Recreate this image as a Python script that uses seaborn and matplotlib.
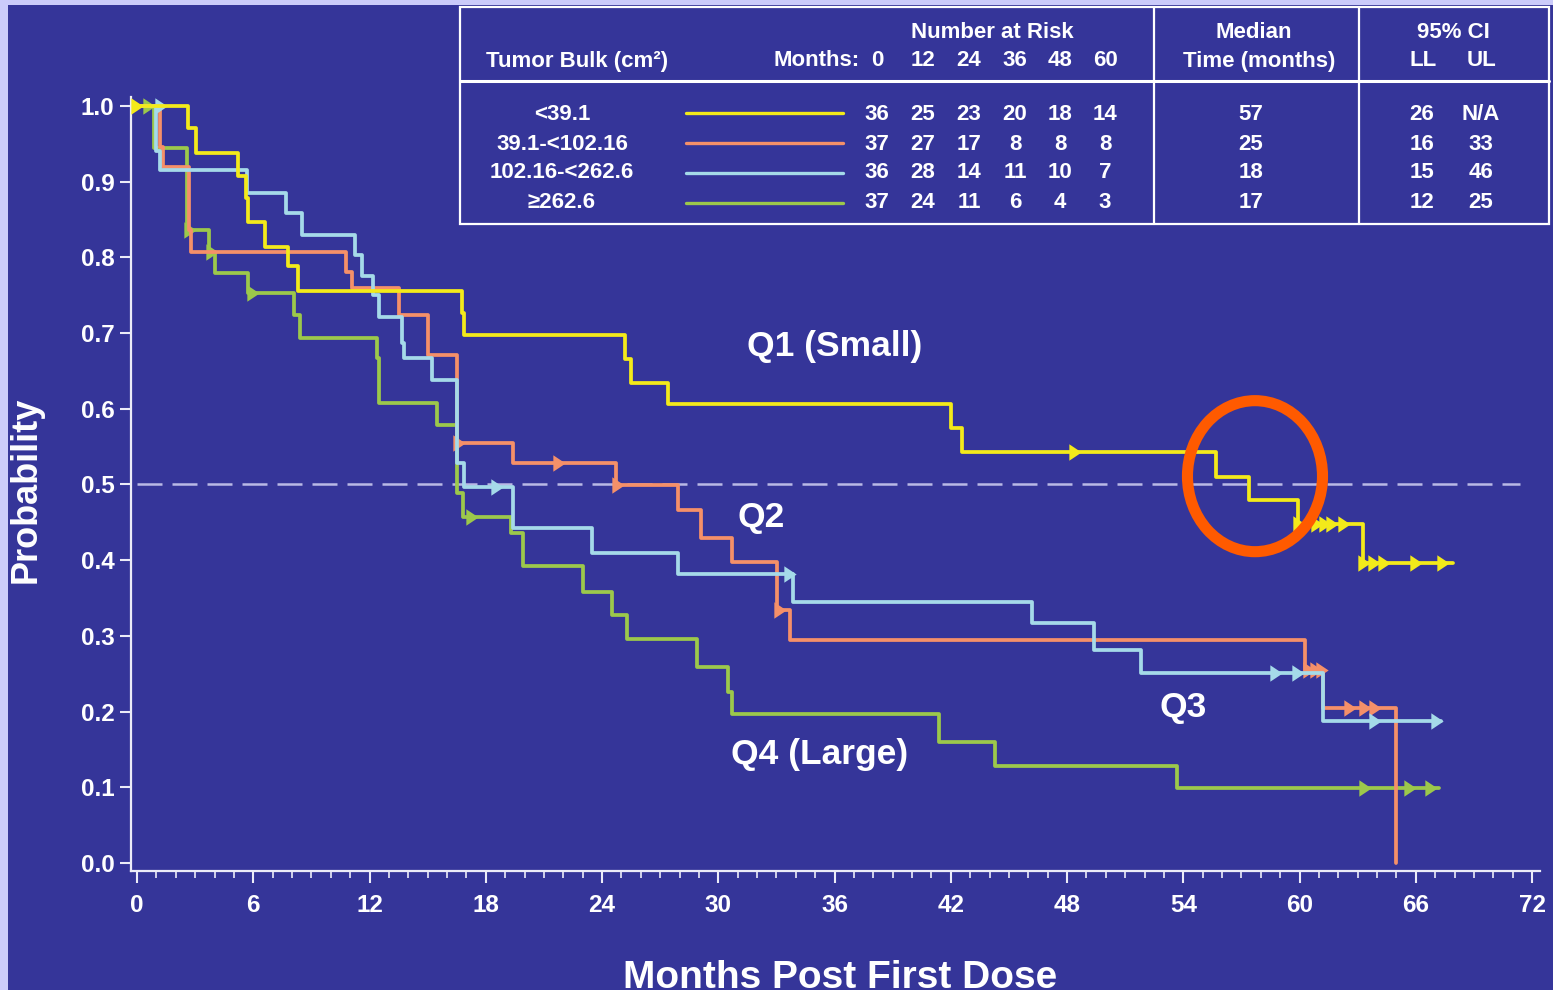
import numpy as np
import matplotlib
matplotlib.use("Agg")
import matplotlib.pyplot as plt
import seaborn as sns
from matplotlib.patches import Rectangle, Ellipse
from matplotlib.lines import Line2D

# ---------------- data ----------------
group_labels = ["<39.1", "39.1-<102.16", "102.16-<262.6", "\u2265262.6"]
curve_names = ["Q1 (Small)", "Q2", "Q3", "Q4 (Large)"]

# Kaplan-Meier step curves: time of each step (months) and survival after it
q1_t = [0, 2.65, 3.05, 5.23, 5.6, 5.75, 6.6, 7.8, 8.3, 16.75, 16.9, 25.2, 25.5, 27.4,
        42.0, 42.6, 55.7, 57.4, 59.9, 63.3, 67.9]
q1_s = [1.0, 0.971, 0.938, 0.907, 0.878, 0.847, 0.814, 0.788, 0.756, 0.726, 0.697, 0.666,
        0.634, 0.606, 0.575, 0.543, 0.510, 0.480, 0.448, 0.396, 0.396]
q1_cens_t = [0.0, 48.4, 59.95, 60.9, 61.3, 61.7, 62.3, 63.35, 63.85, 64.35, 66.0, 67.4]
q1_cens_s = [1.0, 0.543, 0.448, 0.448, 0.448, 0.448, 0.448, 0.396, 0.396, 0.396, 0.396, 0.396]

q2_t = [0, 1.2, 1.35, 2.7, 2.8, 10.8, 11.1, 13.5, 15.0, 16.5, 19.4, 24.7, 27.9, 29.1,
        30.7, 33.05, 33.7, 60.3, 61.2, 65.0]
q2_s = [1.0, 0.946, 0.920, 0.836, 0.807, 0.781, 0.759, 0.724, 0.671, 0.555, 0.528, 0.499,
        0.466, 0.429, 0.398, 0.334, 0.295, 0.255, 0.205, 0.0]
q2_cens_t = [16.6, 21.8, 24.8, 33.2, 60.5, 60.85, 61.15, 62.6, 63.4, 63.9]
q2_cens_s = [0.555, 0.528, 0.499, 0.334, 0.255, 0.255, 0.255, 0.205, 0.205, 0.205]

q3_t = [0, 1.0, 1.2, 5.67, 7.7, 8.5, 11.25, 11.6, 12.2, 12.5, 13.7, 13.8, 15.2, 16.5,
        16.9, 19.4, 23.5, 27.9, 33.85, 46.2, 49.4, 51.8, 61.2, 67.3]
q3_s = [1.0, 0.940, 0.915, 0.885, 0.858, 0.830, 0.803, 0.776, 0.750, 0.721, 0.687, 0.667,
        0.638, 0.528, 0.497, 0.443, 0.410, 0.382, 0.345, 0.317, 0.281, 0.251, 0.188, 0.188]
q3_cens_t = [1.25, 18.6, 33.7, 58.8, 59.9, 63.9, 67.1]
q3_cens_s = [1.0, 0.497, 0.382, 0.251, 0.251, 0.188, 0.188]

q4_t = [0, 0.9, 2.6, 3.7, 4.0, 5.75, 8.1, 8.4, 12.4, 12.5, 15.5, 16.5, 16.8, 19.3, 19.9,
        23.0, 24.5, 25.3, 28.9, 30.5, 30.7, 41.4, 44.3, 53.7, 67.2]
q4_s = [1.0, 0.944, 0.836, 0.807, 0.779, 0.753, 0.724, 0.694, 0.667, 0.608, 0.579, 0.489,
        0.457, 0.436, 0.392, 0.358, 0.328, 0.296, 0.259, 0.226, 0.197, 0.160, 0.128, 0.099,
        0.099]
q4_cens_t = [0.6, 2.75, 3.85, 6.0, 17.3, 63.4, 65.7, 66.8]
q4_cens_s = [1.0, 0.836, 0.807, 0.753, 0.457, 0.099, 0.099, 0.099]

# number-at-risk table
risk_months = [0, 12, 24, 36, 48, 60]
risk_counts = [
    [36, 25, 23, 20, 18, 14],
    [37, 27, 17, 8, 8, 8],
    [36, 28, 14, 11, 10, 7],
    [37, 24, 11, 6, 4, 3],
]
median_months = ["57", "25", "18", "17"]
ci_ll = ["26", "16", "15", "12"]
ci_ul = ["N/A", "33", "46", "25"]

# ---------------- style ----------------
NAVY = "#353599"
LAVENDER = "#CBCBFA"
WHITE = "#FFFFFF"
AXIS_COL = "#ECECF8"
colors = ["#F3EA1A", "#F59069", "#A5DAE9", "#9CC84B"]

sns.set_style("white")
plt.rcParams["font.family"] = ["Liberation Sans", "DejaVu Sans"]

W, H = 1553, 990
fig = plt.figure(figsize=(W / 100, H / 100), dpi=100)
fig.patch.set_facecolor(LAVENDER)


def fx(x):
    return x / W


def fy(y):
    return 1 - y / H


fig.add_artist(Rectangle((fx(8), 0), 1 - fx(8), fy(5), transform=fig.transFigure,
                         facecolor=NAVY, edgecolor="none", zorder=0))

ax = fig.add_axes([fx(131), fy(871), (1540 - 131) / W, (871 - 97) / H])
ax.set_facecolor("none")
ax.set_xlim(-0.31, 72.41)
ax.set_ylim(-0.0106, 1.0119)

for side in ("top", "right"):
    ax.spines[side].set_visible(False)
for side in ("left", "bottom"):
    ax.spines[side].set_color(AXIS_COL)
    ax.spines[side].set_linewidth(1.6)

# 50% reference line
ax.hlines(0.5, 0, 71.4, colors="#B9B9E6", linewidth=1.8, linestyles=(0, (10, 4)), zorder=1)

curves = [(q1_t, q1_s, q1_cens_t, q1_cens_s),
          (q2_t, q2_s, q2_cens_t, q2_cens_s),
          (q3_t, q3_s, q3_cens_t, q3_cens_s),
          (q4_t, q4_s, q4_cens_t, q4_cens_s)]
draw_order = [3, 1, 2, 0]
censor_marker = [(-0.6, -0.8), (0.6, 0.0), (-0.6, 0.8)]

for k, gi in enumerate(draw_order):
    t, s, ct, cs = curves[gi]
    sns.lineplot(x=t, y=s, ax=ax, color=colors[gi], linewidth=2.7, drawstyle="steps-post",
                 estimator=None, sort=False, legend=False, zorder=3 + k)
    sns.scatterplot(x=ct, y=cs, ax=ax, color=colors[gi], marker=censor_marker, s=140,
                    linewidth=0, legend=False, zorder=3 + k, clip_on=False)

# ticks
ax.set_yticks(np.round(np.arange(0, 1.01, 0.1), 1))
ax.set_yticklabels([f"{v:.1f}" for v in np.arange(0, 1.01, 0.1)])
ax.set_xticks(np.arange(0, 73, 6))
ax.set_xticks(np.arange(0, 73, 1), minor=True)
ax.tick_params(axis="y", which="major", direction="out", length=8, width=1.5, pad=4,
               colors=AXIS_COL, labelcolor=WHITE, labelsize=17.5, left=True)
ax.tick_params(axis="x", which="major", direction="out", length=8.6, width=1.5, pad=8,
               colors=AXIS_COL, labelcolor=WHITE, labelsize=17.5, bottom=True)
ax.tick_params(axis="x", which="minor", direction="out", length=5, width=1.2,
               colors=AXIS_COL, bottom=True)
for lab in ax.get_xticklabels() + ax.get_yticklabels():
    lab.set_fontweight("bold")
ax.set_xlabel("")
ax.set_ylabel("")

# curve labels
label_pos = [(36.0, 0.682), (32.2, 0.457), (54.0, 0.206), (35.25, 0.143)]
for name, (lx, ly) in zip(curve_names, label_pos):
    ax.text(lx, ly, name, color=WHITE, fontsize=25.5, fontweight="bold",
            ha="center", va="center", zorder=20)

# highlight ellipse around the Q1 median crossing
ax.add_patch(Ellipse((57.7, 0.511), 6.97, 0.1995, fill=False, edgecolor="#FF5A00",
                     linewidth=8, zorder=30, clip_on=False))

# axis titles
fig.text(fx(26), fy(490), "Probability", rotation=90, ha="center", va="center",
         fontsize=26, fontweight="bold", color=WHITE)
fig.text(fx(840), fy(988), "Months Post First Dose", ha="center", va="baseline",
         fontsize=28, fontweight="bold", color=WHITE)

# ---------------- table ----------------
tl = dict(color=WHITE, linewidth=1.6, transform=fig.transFigure, zorder=5)
fig.add_artist(Rectangle((fx(460), fy(224)), (1549 - 460) / W, (224 - 7) / H,
                         fill=False, edgecolor=WHITE, linewidth=1.6,
                         transform=fig.transFigure, zorder=5))
fig.add_artist(Line2D([fx(460), fx(1549)], [fy(81), fy(81)], **{**tl, "linewidth": 2.2}))
for vx in (1154, 1359):
    fig.add_artist(Line2D([fx(vx), fx(vx)], [fy(7), fy(224)], **tl))

tk = dict(color=WHITE, fontsize=16, fontweight="bold", va="center")
fig.text(fx(992), fy(32), "Number at Risk", ha="center", **tk)
fig.text(fx(577), fy(61), "Tumor Bulk (cm\u00b2)", ha="center", **tk)
fig.text(fx(860), fy(61), "Months:", ha="right", **tk)
col_x = [877, 923, 969, 1015, 1060, 1105]
for cx, m in zip(col_x, risk_months):
    fig.text(fx(cx), fy(61), str(m), ha="center", **tk)
fig.text(fx(1254), fy(32), "Median", ha="center", **tk)
fig.text(fx(1259), fy(61), "Time (months)", ha="center", **tk)
fig.text(fx(1453), fy(32), "95% CI", ha="center", **tk)
fig.text(fx(1423), fy(61), "LL", ha="center", **tk)
fig.text(fx(1481), fy(61), "UL", ha="center", **tk)

row_y = [114, 144, 173, 202]
line_y = [113, 143, 173, 203]
for i in range(4):
    fig.text(fx(562), fy(row_y[i]), group_labels[i], ha="center", **tk)
    fig.add_artist(Line2D([fx(686), fx(843)], [fy(line_y[i]), fy(line_y[i])],
                          color=colors[i], linewidth=2.4, transform=fig.transFigure, zorder=6))
    for cx, n in zip(col_x, risk_counts[i]):
        fig.text(fx(cx), fy(row_y[i]), str(n), ha="center", **tk)
    fig.text(fx(1251), fy(row_y[i]), median_months[i], ha="center", **tk)
    fig.text(fx(1422), fy(row_y[i]), ci_ll[i], ha="center", **tk)
    fig.text(fx(1481), fy(row_y[i]), ci_ul[i], ha="center", **tk)

fig.savefig("out.png", dpi=100, facecolor=fig.get_facecolor())
